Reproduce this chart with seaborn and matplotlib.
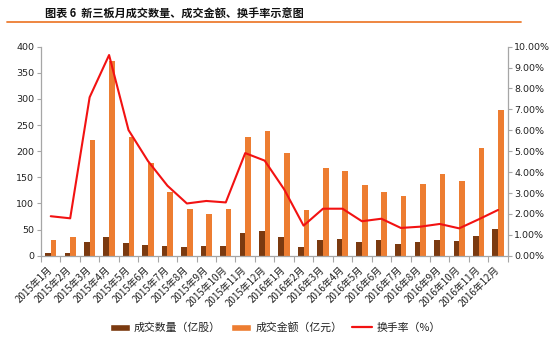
import numpy as np
import pandas as pd
import matplotlib
matplotlib.use("Agg")
import matplotlib.pyplot as plt
from matplotlib.lines import Line2D
from matplotlib.patches import Patch
from matplotlib.ticker import FixedLocator, PercentFormatter
import seaborn as sns

months = [f"2015年{m}月" for m in range(1, 13)] + [f"2016年{m}月" for m in range(1, 13)]

volume = [4.6, 4.6, 25.6, 36, 23.7, 21, 19, 16.7, 18, 19, 43.4, 46.7,
          36, 16.7, 30, 31.3, 25.6, 30, 22.4, 25.6, 30, 27.5, 37.7, 50.5]
amount = [30, 36, 221, 372, 227, 177, 122, 89, 79, 89, 228, 239,
          196, 87, 168, 162, 135, 122, 115, 138, 156, 143, 207, 279]
turnover = [1.89, 1.79, 7.58, 9.6, 6.01, 4.53, 3.35, 2.5, 2.62, 2.55, 4.91, 4.55,
            3.18, 1.44, 2.25, 2.25, 1.65, 1.77, 1.33, 1.39, 1.52, 1.31, 1.74, 2.19]

series_names = ["成交数量（亿股）", "成交金额（亿元）", "换手率（%）"]
colors = ["#7B3A10", "#ED7D31", "#F21212"]

sns.set_theme(style="white")
plt.rcParams["font.family"] = ["Noto Sans CJK SC", "DejaVu Sans"]

fig = plt.figure(figsize=(5.58, 3.47), dpi=100)
ax = fig.add_axes([0.0735, 0.263, 0.8365, 0.6025])

bars = pd.DataFrame({
    "month": months * 2,
    "value": volume + amount,
    "series": [series_names[0]] * len(months) + [series_names[1]] * len(months),
})
sns.barplot(data=bars, x="month", y="value", hue="series", order=months,
            hue_order=series_names[:2], palette=colors[:2], width=0.58,
            saturation=1, linewidth=0, ax=ax, legend=False)

ax.set_ylim(0, 400)
ax.set_xlim(-0.5, len(months) - 0.5)
ax.set_yticks(np.arange(0, 401, 50))
ax.set_xlabel("")
ax.set_ylabel("")

ax2 = ax.twinx()
rate = pd.DataFrame({"pos": np.arange(len(months)), "rate": turnover})
sns.lineplot(data=rate, x="pos", y="rate", color=colors[2], linewidth=1.5, ax=ax2)
ax2.set_ylim(0, 10)
ax2.set_yticks(np.arange(0, 10.01, 1))
ax2.yaxis.set_major_formatter(PercentFormatter(decimals=2))
ax2.set_xlabel("")
ax2.set_ylabel("")

spine_col = "#A6A6A6"
for a in (ax, ax2):
    for s in a.spines.values():
        s.set_visible(False)
ax.spines["left"].set_visible(True)
ax.spines["bottom"].set_visible(True)
ax2.spines["right"].set_visible(True)
for a, side in ((ax, "left"), (ax, "bottom"), (ax2, "right")):
    a.spines[side].set_color(spine_col)
    a.spines[side].set_linewidth(0.9)

ax.tick_params(axis="y", which="major", direction="out", length=3, width=0.8,
               color=spine_col, labelsize=6.8, labelcolor="#222222", pad=2, left=True)
ax2.tick_params(axis="y", which="major", direction="out", length=3, width=0.8,
                color=spine_col, labelsize=6.8, labelcolor="#222222", pad=1.5, right=True)
for lab in ax.get_yticklabels() + ax2.get_yticklabels():
    lab.set_family("DejaVu Sans")

# category boundaries carry the tick marks, labels sit at the centres
ax.xaxis.set_minor_locator(FixedLocator(np.arange(-0.5, len(months), 1)))
ax.tick_params(axis="x", which="minor", direction="out", length=4, width=0.8,
               color=spine_col, bottom=True)
ax.tick_params(axis="x", which="major", length=0, pad=9, labelsize=7,
               labelcolor="#222222")
ax.set_xticks(range(len(months)))
ax.set_xticklabels(months, rotation=45, ha="right", va="center",
                   rotation_mode="anchor")

handles = [Patch(facecolor=colors[0], label=series_names[0]),
           Patch(facecolor=colors[1], label=series_names[1]),
           Line2D([0], [0], color=colors[2], linewidth=1.6, label=series_names[2])]
fig.legend(handles=handles, loc="center", bbox_to_anchor=(0.493, 0.056), ncol=3,
           frameon=False, fontsize=7.8, handlelength=1.9, handleheight=0.6,
           handletextpad=0.35, columnspacing=0.9, labelcolor="#222222")

fig.text(0.081, 0.959, "图表 6  新三板月成交数量、成交金额、换手率示意图",
         fontsize=8, fontweight="bold", color="#111111", va="center", ha="left")
fig.add_artist(Line2D([0.0125, 0.933], [0.937, 0.937], color="#ED7D31",
                      linewidth=1.3, transform=fig.transFigure))

fig.savefig("out.png", dpi=100)
